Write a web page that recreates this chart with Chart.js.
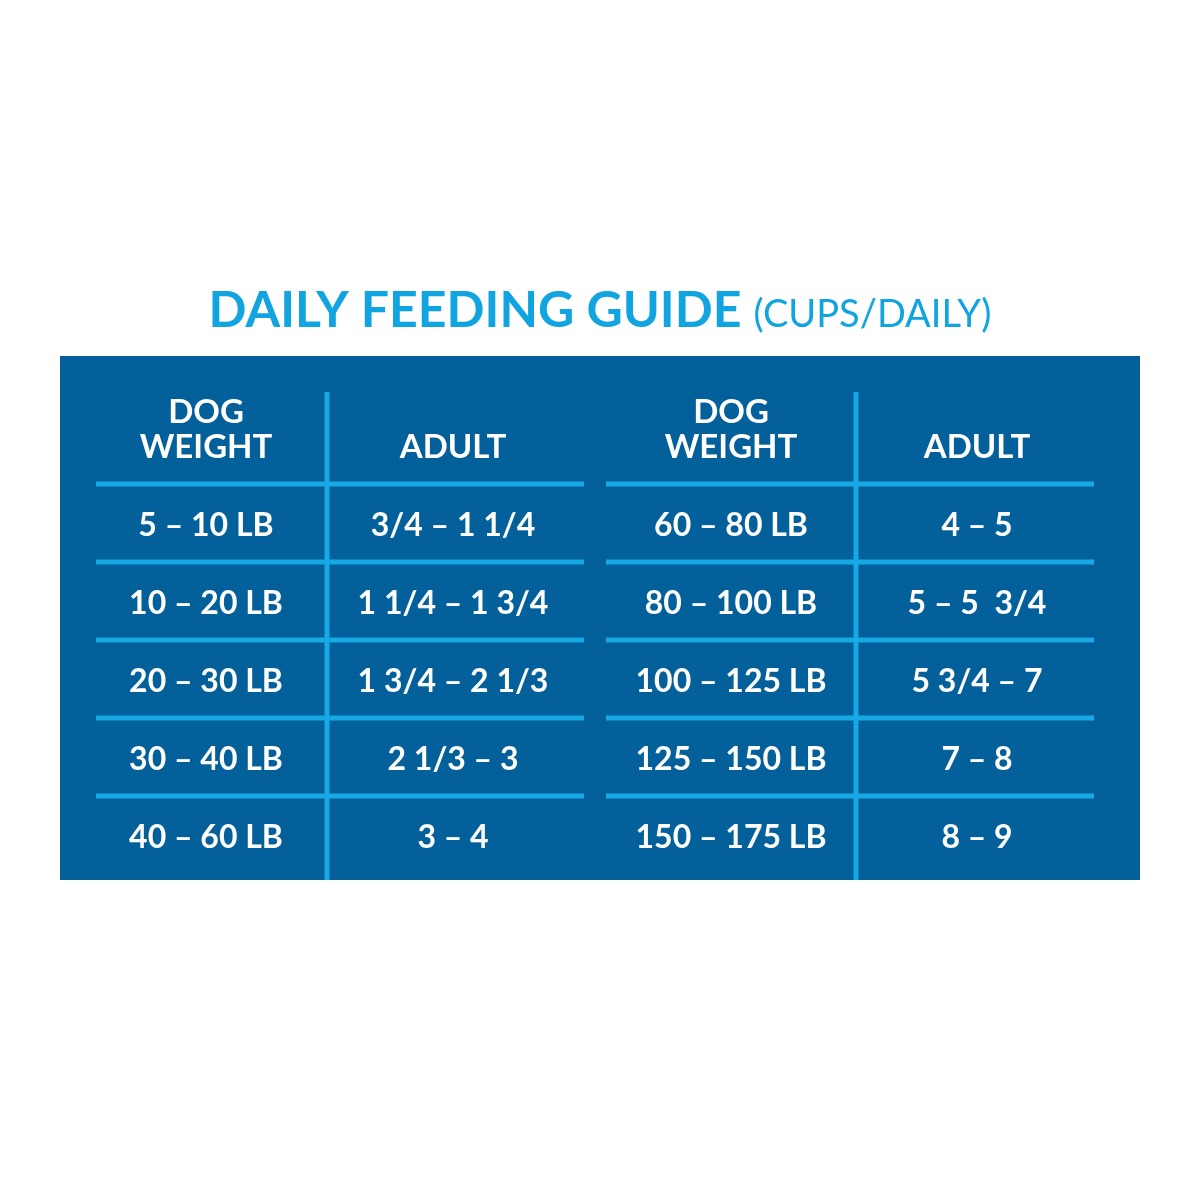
<!DOCTYPE html>
<html><head><meta charset="utf-8">
<script src="https://cdn.jsdelivr.net/npm/chart.js@4/dist/chart.umd.min.js"></script>
<style>html,body{margin:0;padding:0;background:#fff}canvas{display:block}</style>
</head><body>
<canvas id="c" width="1200" height="1200"></canvas>
<script>
const titleMain = "DAILY FEEDING GUIDE";
const titleSub = "(CUPS/DAILY)";
const headers = [["DOG","WEIGHT"],["ADULT"],["DOG","WEIGHT"],["ADULT"]];
const weightsLeft = ["5 – 10 LB","10 – 20 LB","20 – 30 LB","30 – 40 LB","40 – 60 LB"];
const cupsLeft = ["3/4 – 1 1/4","1 1/4 – 1 3/4","1 3/4 – 2 1/3","2 1/3 – 3","3 – 4"];
const weightsRight = ["60 – 80 LB","80 – 100 LB","100 – 125 LB","125 – 150 LB","150 – 175 LB"];
const cupsRight = ["4 – 5","5 – 5  3/4","5 3/4 – 7","7 – 8","8 – 9"];
const columns = [weightsLeft, cupsLeft, weightsRight, cupsRight];

// layout (in scale units = pixels)
const colX = [206, 453, 731, 977];
const rowY = [526, 604, 682, 760, 838];
const hLines = [484, 562, 640, 718, 796];
const vLines = [327, 856];
const BLUE = "#04609a", LIGHT = "#17a8e6";

const tablePlugin = {
  id: 'table',
  afterDraw(chart) {
    const ctx = chart.ctx, sx = chart.scales.x, sy = chart.scales.y;
    const X = v => sx.getPixelForValue(v), Y = v => sy.getPixelForValue(v);
    ctx.save();
    ctx.fillStyle = BLUE;
    ctx.fillRect(X(60), Y(356), X(1140) - X(60), Y(880) - Y(356));
    ctx.strokeStyle = LIGHT; ctx.lineWidth = 5;
    hLines.forEach(y => {
      ctx.beginPath(); ctx.moveTo(X(96), Y(y)); ctx.lineTo(X(584), Y(y)); ctx.stroke();
      ctx.beginPath(); ctx.moveTo(X(606), Y(y)); ctx.lineTo(X(1094), Y(y)); ctx.stroke();
    });
    vLines.forEach(x => {
      ctx.beginPath(); ctx.moveTo(X(x), Y(392)); ctx.lineTo(X(x), Y(880)); ctx.stroke();
    });
    // title
    ctx.textBaseline = 'alphabetic';
    ctx.font = "bold 50px Lato";
    const w1 = ctx.measureText(titleMain + " ").width;
    ctx.font = "38px Lato";
    const w2 = ctx.measureText(titleSub).width;
    let tx = X(600) - (w1 + w2) / 2;
    ctx.fillStyle = "#10a4e0"; ctx.textAlign = 'left';
    ctx.font = "bold 50px Lato"; ctx.fillText(titleMain + " ", tx, Y(327));
    ctx.font = "38px Lato"; ctx.fillText(titleSub, tx + w1, Y(327));
    // headers
    ctx.fillStyle = "#fff"; ctx.textAlign = 'center'; ctx.textBaseline = 'middle';
    ctx.font = "bold 33px Lato";
    headers.forEach((h, i) => {
      if (h.length === 2) { ctx.fillText(h[0], X(colX[i]), Y(412)); ctx.fillText(h[1], X(colX[i]), Y(447)); }
      else ctx.fillText(h[0], X(colX[i]), Y(447));
    });
    ctx.font = "bold 32px Lato";
    columns.forEach((col, i) => col.forEach((t, r) => ctx.fillText(t, X(colX[i]), Y(rowY[r]))));
    ctx.restore();
  }
};

new Chart(document.getElementById('c'), {
  type: 'scatter',
  data: { datasets: [{ data: [] }] },
  options: {
    responsive: false, animation: false,
    layout: { padding: 0 },
    plugins: { legend: { display: false }, tooltip: { enabled: false } },
    scales: {
      x: { type: 'linear', min: 0, max: 1200, display: false },
      y: { type: 'linear', min: 0, max: 1200, reverse: true, display: false }
    }
  },
  plugins: [tablePlugin]
});
</script>
</body></html>
